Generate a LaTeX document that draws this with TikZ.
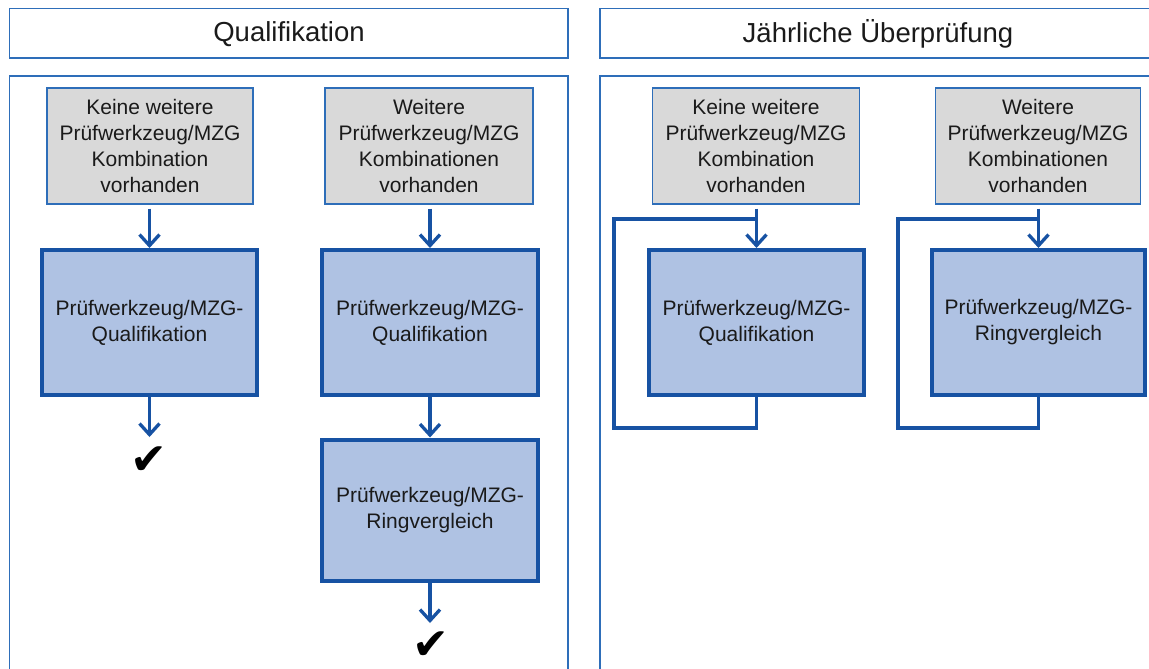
\documentclass[tikz,border=0pt]{standalone}
\usepackage{fontspec}
\setmainfont{Liberation Sans}
\newfontfamily\symfont{DejaVu Sans}
\usetikzlibrary{arrows.meta}
\definecolor{framecol}{HTML}{2E6EB9}
\definecolor{procline}{HTML}{1752A3}
\definecolor{procfill}{HTML}{AFC2E3}
\definecolor{condfill}{HTML}{D9D9D9}
\definecolor{txt}{HTML}{1A1A1A}
\tikzset{
  hdrtext/.style={font=\fontsize{27.5}{30}\selectfont, text=txt},
  condbox/.style={draw=framecol, line width=1.2pt, fill=condfill, inner sep=0pt,
    minimum height=116pt, align=center, text=txt,
    font=\fontsize{21}{26}\selectfont},
  procbox/.style={draw=procline, line width=4pt, fill=procfill, inner sep=0pt,
    align=center, text=txt, font=\fontsize{21}{26}\selectfont},
  flow/.style={draw=procline, line width=3.3pt,
    -{Straight Barb[length=11pt,width=20pt,line width=3.3pt]}},
  loopline/.style={draw=procline, line width=3.6pt, line join=miter},
  done/.style={font=\symfont\fontsize{44}{44}\selectfont, text=black, inner sep=0pt}
}
\begin{document}
\begin{tikzpicture}[x=1pt, y=-1pt]
\useasboundingbox (0,0) rectangle (1149,669);
\clip (0,0) rectangle (1149,669);
\fill[white] (0,0) rectangle (1149,669);

% column headers and frames
\draw[framecol, line width=1.3pt] (9.6,8.5) rectangle (568,58);
\draw[framecol, line width=1.3pt] (600,8.5) rectangle (1160,58);
\draw[framecol, line width=1.3pt] (9.6,76) rectangle (568,690);
\draw[framecol, line width=1.3pt] (600,76) rectangle (1160,690);
\node[hdrtext] (hq) at (289,34) {Qualifikation};
\node[hdrtext] (hj) at (878,34) {Jährliche Überprüfung};

% ---------- Qualifikation ----------
\node[condbox, minimum width=206pt] (qc1) at (150,146)
  {Keine weitere\\Prüfwerkzeug/MZG\\Kombination\\vorhanden};
\node[condbox, minimum width=208pt] (qc2) at (429,146)
  {Weitere\\Prüfwerkzeug/MZG\\Kombinationen\\vorhanden};

\node[procbox, minimum width=215pt, minimum height=145pt] (qp1) at (149.5,322.5)
  {Prüfwerkzeug/MZG-\\Qualifikation};
\node[procbox, minimum width=216pt, minimum height=145pt] (qp2) at (430,322.5)
  {Prüfwerkzeug/MZG-\\Qualifikation};
\node[procbox, minimum width=216pt, minimum height=141pt] (qp3) at (430,510)
  {Prüfwerkzeug/MZG-\\Ringvergleich};

\coordinate (qe1) at (149.5,437);
\coordinate (qe3) at (430,623);
\node[done] (ok1) at (149,461) {✔};
\node[done] (ok2) at (431,646) {✔};

\draw[flow, shorten <=4pt] (qc1.south -| qp1.north) -- (qp1.north);
\draw[flow, shorten <=4pt] (qc2.south -| qp2.north) -- (qp2.north);
\draw[flow] (qp1.south) -- (qe1);
\draw[flow] (qp2.south) -- (qp3.north);
\draw[flow] (qp3.south) -- (qe3);

% ---------- Jährliche Überprüfung ----------
\node[condbox, minimum width=207pt] (jc1) at (756,146)
  {Keine weitere\\Prüfwerkzeug/MZG\\Kombination\\vorhanden};
\node[condbox, minimum width=205pt] (jc2) at (1038,146)
  {Weitere\\Prüfwerkzeug/MZG\\Kombinationen\\vorhanden};

\node[procbox, minimum width=215pt, minimum height=145pt] (jp1) at (756.5,322.5)
  {Prüfwerkzeug/MZG-\\Qualifikation};
\node[procbox, minimum width=213pt, minimum height=145pt] (jp2) at (1038.5,322.5)
  {Prüfwerkzeug/MZG-\\Ringvergleich};

% repeat loops back into each step
\coordinate (jl1a) at (756.5,428);
\coordinate (jl1b) at (614,428);
\coordinate (jl1c) at (614,219);
\coordinate (jl1d) at (756.5,219);
\coordinate (jl2a) at (1038.5,428);
\coordinate (jl2b) at (898,428);
\coordinate (jl2c) at (898,219);
\coordinate (jl2d) at (1038.5,219);
\draw[loopline] (jp1.south) -- (jl1a) -- (jl1b) -- (jl1c) -- (jl1d);
\draw[loopline] (jp2.south) -- (jl2a) -- (jl2b) -- (jl2c) -- (jl2d);

\draw[flow, shorten <=4pt] (jc1.south -| jp1.north) -- (jp1.north);
\draw[flow, shorten <=4pt] (jc2.south -| jp2.north) -- (jp2.north);
\end{tikzpicture}
\end{document}
